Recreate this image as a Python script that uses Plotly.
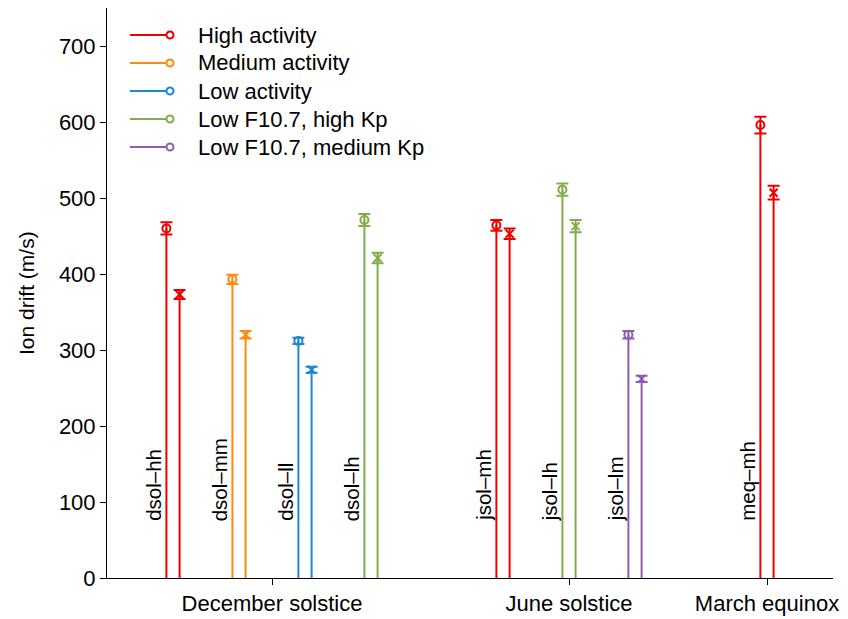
import plotly.graph_objects as go

# ---------------- data ----------------
group_names = ["dsol\u2013hh", "dsol\u2013mm", "dsol\u2013ll", "dsol\u2013lh",
               "jsol\u2013mh", "jsol\u2013lh", "jsol\u2013lm", "meq\u2013mh"]
group_series = [0, 1, 2, 3, 0, 3, 4, 0]          # index into series_names
first_values = [460, 393, 312, 471, 464, 511, 320, 596]   # circle markers
first_errors = [8, 6, 4, 8, 7, 8, 5, 11]
second_values = [373, 320, 274, 421, 453, 463, 262, 507]  # x markers
second_errors = [6, 5, 4, 7, 7, 8, 4, 9]
series_names = ["High activity", "Medium activity", "Low activity",
                "Low F10.7, high Kp", "Low F10.7, medium Kp"]
season_labels = ["December solstice", "June solstice", "March equinox"]
y_ticks = [0, 100, 200, 300, 400, 500, 600, 700]

# ---------------- layout / style ----------------
group_slots = [0, 1, 2, 3, 5, 6, 7, 9]
season_slots = [1.5, 6, 9]
series_colors = ["#EE0000", "#FF8A12", "#1C88D2", "#82AD4A", "#8E5CB4"]
pair_offset = 0.1
FONT = "Liberation Sans, Arial, Helvetica, sans-serif"
FS = 22        # horizontal texts
FS_ROT = 20.5  # rotated texts

# page offset of the figure (default body margin of the html page)
OFF = 8
PLOT_L, PLOT_W, PLOT_T, PLOT_H = 107, 726, 8, 570


def px2x(px):
    return (px - PLOT_L) / PLOT_W


def py2y(py):
    return (PLOT_T + PLOT_H - py) / PLOT_H


fig = go.Figure()

for s, name in enumerate(series_names):
    color = series_colors[s]
    idx = [i for i, g in enumerate(group_series) if g == s]
    sx, sy = [], []
    cx, cy, ce = [], [], []
    xx, xy, xe = [], [], []
    for i in idx:
        p1 = group_slots[i] - pair_offset
        p2 = group_slots[i] + pair_offset
        sx += [p1, p1, None, p2, p2, None]
        sy += [0, first_values[i], None, 0, second_values[i], None]
        cx.append(p1); cy.append(first_values[i]); ce.append(first_errors[i])
        xx.append(p2); xy.append(second_values[i]); xe.append(second_errors[i])
    fig.add_trace(go.Scatter(x=sx, y=sy, mode="lines", line=dict(color=color, width=2),
                             showlegend=False, hoverinfo="skip"))
    fig.add_trace(go.Scatter(x=cx, y=cy, mode="markers", name=name, showlegend=False,
                             marker=dict(symbol="circle-open", size=8, color=color,
                                         line=dict(width=2, color=color)),
                             error_y=dict(type="data", array=ce, visible=True,
                                          color=color, thickness=2, width=6)))
    fig.add_trace(go.Scatter(x=xx, y=xy, mode="markers", showlegend=False,
                             marker=dict(symbol="x-thin-open", size=8, color=color,
                                         line=dict(width=2, color=color)),
                             error_y=dict(type="data", array=xe, visible=True,
                                          color=color, thickness=2, width=6)))

# group labels (rotated text beside the left stem)
for i, g in enumerate(group_names):
    fig.add_annotation(x=group_slots[i] - pair_offset + 0.01, y=72, xref="x", yref="y",
                       text=g, textangle=-90, showarrow=False,
                       xanchor="right", yanchor="bottom",
                       font=dict(family=FONT, size=FS_ROT, color="black"))

# custom legend (line with open circle at the right end)
for s, name in enumerate(series_names):
    ypx = 35 + 28 * s
    color = series_colors[s]
    fig.add_shape(type="line", xref="paper", yref="paper",
                  x0=px2x(130), x1=px2x(167), y0=py2y(ypx), y1=py2y(ypx),
                  line=dict(color=color, width=2))
    fig.add_shape(type="circle", xref="paper", yref="paper",
                  xsizemode="pixel", ysizemode="pixel",
                  xanchor=px2x(170), yanchor=py2y(ypx),
                  x0=-3.5, x1=3.5, y0=-3.5, y1=3.5,
                  line=dict(color=color, width=2), fillcolor="rgba(0,0,0,0)")
    fig.add_annotation(x=px2x(196), y=py2y(ypx), xref="paper", yref="paper",
                       text=name, showarrow=False, xanchor="left", yanchor="middle",
                       font=dict(family=FONT, size=FS, color="black"))

# y-axis title
fig.add_annotation(x=px2x(26), y=py2y(293), xref="paper", yref="paper",
                   text="Ion drift (m/s)", textangle=-90, showarrow=False,
                   xanchor="center", yanchor="middle",
                   font=dict(family=FONT, size=21, color="black"))

fig.update_layout(
    width=848 - OFF, height=619 - OFF,
    margin=dict(l=PLOT_L - OFF, r=848 - PLOT_L - PLOT_W, t=PLOT_T - OFF,
                b=619 - PLOT_T - PLOT_H, autoexpand=False),
    paper_bgcolor="white", plot_bgcolor="white",
    font=dict(family=FONT, size=FS, color="black"),
    showlegend=False,
)
fig.update_xaxes(range=[-1, 10], tickvals=season_slots, ticktext=season_labels,
                 ticks="outside", ticklen=6, tickwidth=1, tickcolor="black",
                 showline=True, linecolor="black", linewidth=1,
                 showgrid=False, zeroline=False, automargin=False,
                 tickfont=dict(family=FONT, size=FS, color="black"))
fig.update_yaxes(range=[0, 750], tickvals=y_ticks,
                 ticks="outside", ticklen=6, tickwidth=1, tickcolor="black",
                 showline=True, linecolor="black", linewidth=1,
                 showgrid=False, zeroline=False, automargin=False,
                 tickfont=dict(family=FONT, size=FS, color="black"))

fig.write_html("out.html")
